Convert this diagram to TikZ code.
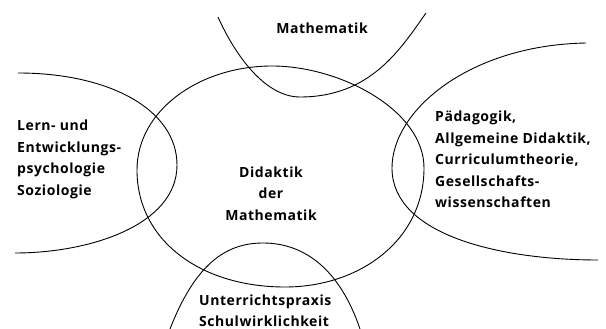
\documentclass[tikz,border=0pt]{standalone}
\usepackage{fontspec}
\setmainfont{Open Sans}[LetterSpace=4]
\usepackage{tikz}
\usetikzlibrary{positioning}
\tikzset{
  field/.style={line width=0.9pt,black},
  lbl/.style={inner sep=0pt,font=\bfseries\fontsize{14}{21.5}\selectfont},
  lblL/.style={lbl,anchor=west,align=left},
  lblC/.style={lbl,align=center},
}
\begin{document}
\begin{tikzpicture}[x=1pt,y=-1pt]
  \useasboundingbox (0,0) rectangle (606,329);
  % central field
  \draw[field] (137,170) .. controls (137,110) and (200,66) .. (272,66)
    .. controls (340,66) and (424,110) .. (424,168)
    .. controls (424,240) and (360,287) .. (285,287)
    .. controls (200,287) and (137,240) .. (137,170) -- cycle;
  % Mathematik
  \draw[field] (218,17) .. controls (235,55) and (265,97) .. (300,97)
    .. controls (370,97) and (400,50) .. (426,13);
  % left field
  \draw[field] (18,73) .. controls (110,73) and (177,110) .. (177,165)
    .. controls (177,225) and (90,253) .. (15,253);
  % right field
  \draw[field] (586,43) .. controls (470,45) and (392,110) .. (392,168)
    .. controls (392,235) and (500,260) .. (598,260);
  % bottom field
  \draw[field] (170,329) .. controls (195,265) and (225,243) .. (263,243)
    .. controls (305,243) and (340,270) .. (360,329);

  \node[lblC] (mathe) at (322,28) {Mathematik};
  \node[lblL] (lern) at (17,159.5) {Lern- und\\Entwicklungs-\\psychologie\\Soziologie};
  \node[lblL] (paed) at (435,159.5) {Pädagogik,\\Allgemeine Didaktik,\\Curriculumtheorie,\\Gesellschafts-\\wissenschaften};
  \node[lblC] (didaktik) at (271,193.5) {Didaktik\\der\\Mathematik};
  \node[lblL] (praxis) at (199,310.5) {Unterrichtspraxis\\Schulwirklichkeit};
\end{tikzpicture}
\end{document}
